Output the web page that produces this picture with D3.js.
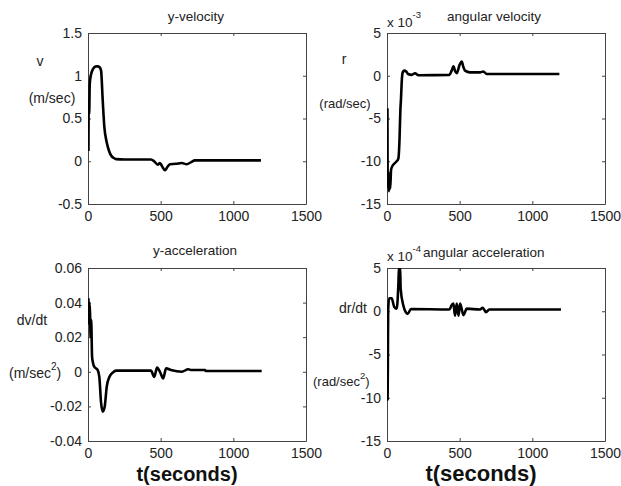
<!DOCTYPE html>
<html lang="en">
<head>
    <meta charset="UTF-8">
    <title>y / angular velocity and acceleration</title>
    <script src="https://d3js.org/d3.v7.min.js"></script>
    <style>
        body {
            margin: 0;
            background: #fff;
        }

        text {
            font-family: "Liberation Sans", Arial, sans-serif;
            fill: #222;
        }

        .tick text {
            font-size: 14px;
        }

        .title {
            font-size: 13.5px;
        }

        .ylab {
            font-size: 14px;
        }

        .xlab {
            font-size: 20px;
            font-weight: bold;
            fill: #111;
        }

        .curve {
            fill: none;
            stroke: #000;
            stroke-width: 2.6px;
            stroke-linejoin: round;
        }
    </style>
</head>
<body>
<script>
    //x轴刻度
    const xTicks = [0, 500, 1000, 1500];
    //各图y轴刻度
    const velTicks = [-0.5, 0, 0.5, 1, 1.5];
    const angVelTicks = [-15, -10, -5, 0, 5];
    const accTicks = [-0.04, -0.02, 0, 0.02, 0.04, 0.06];
    const angAccTicks = [-15, -10, -5, 0, 5];

    //y-velocity  [t, v]
    const yVelocity = [
        [3, 0.12], [5, 0.72], [8, 0.55], [12, 0.9], [20, 1.01], [35, 1.08], [55, 1.11], [67, 1.11],
        [80, 1.1], [90, 1.06], [101, 0.72], [112, 0.41], [129, 0.22], [145, 0.12], [158, 0.07],
        [175, 0.04], [193, 0.025], [250, 0.02], [433, 0.02], [455, 0.0], [480, -0.04], [495, -0.02],
        [510, -0.06], [530, -0.105], [545, -0.07], [564, -0.035], [605, -0.03], [645, -0.02],
        [679, -0.035], [710, -0.01], [736, 0.01], [1190, 0.01]
    ];
    //angular velocity  [t, r] (x 10^-3)
    const angVelocity = [
        [3, -3.8], [5, -13], [9, -11.2], [13, -13.5], [18, -11.8], [22, -13.2], [28, -11], [36, -10.6],
        [55, -10.2], [78, -9.7], [86, -7.5], [92, -4], [96, -2.8], [102, -0.5], [108, 0.4], [119, 0.6],
        [132, 0.5], [145, 0.2], [170, 0.1], [193, 0.3], [216, 0.05], [429, 0.1], [445, 0.6], [457, 1.1],
        [470, 0.5], [480, 0.3], [500, 1.3], [514, 1.65], [526, 1.0], [537, 0.6], [571, 0.4], [600, 0.4],
        [640, 0.4], [663, 0.5], [686, 0.2], [1186, 0.2]
    ];
    //y-acceleration  [t, dv/dt]
    const yAccel = [
        [3, 0.0425], [5, 0.028], [10, 0.04], [14, 0.034], [18, 0.02], [22, 0.03], [28, 0.0087],
        [35, 0.005], [43, 0.003], [67, 0.001], [78, -0.003], [90, -0.018], [101, -0.023], [115, -0.02],
        [129, -0.0086], [147, -0.003], [170, -0.0005], [193, 0.0007], [433, 0.0007], [456, -0.003],
        [475, 0.0024], [495, 0.0], [518, -0.0038], [537, 0.002], [571, 0.001], [645, 0.0], [690, 0.0015],
        [710, 0.001], [805, 0.001], [810, 0.0005], [1195, 0.0005]
    ];
    //angular acceleration  [t, dr/dt] (x 10^-4)
    const angAccel = [
        [2, 0], [4, -10.2], [6, -6], [8, 0], [14, 1.5], [32, 1.5], [50, 0.5], [67, 0.3], [78, 3.0],
        [83, 5.2], [90, 5.2], [94, 2.6], [112, 0.7], [129, -0.1], [142, -0.3], [165, 0.25], [429, 0.2],
        [445, 0.7], [457, 0.9], [468, -0.5], [480, 0.9], [492, -0.5], [503, 0.9], [526, -0.45],
        [549, 0.3], [640, 0.2], [658, 0.4], [681, -0.1], [704, 0.2], [1197, 0.2]
    ];

    const width = 621;
    const height = 486;

    const svg = d3.select("body").append("svg")
        .attr("width", width)
        .attr("height", height);

    svg.append("rect").attr("width", width).attr("height", height).attr("fill", "#fff");

    //画一个子图
    function drawPanel(id, box, yDomain, yTicks, data) {
        const x = d3.scaleLinear().domain([0, 1500]).range([box.left, box.right]);
        const y = d3.scaleLinear().domain(yDomain).range([box.bottom, box.top]);
        const g = svg.append("g").attr("class", "panel");

        //裁剪区域
        svg.append("clipPath").attr("id", id)
            .append("rect")
            .attr("x", box.left).attr("y", box.top)
            .attr("width", box.right - box.left).attr("height", box.bottom - box.top);

        const fmt = d => String(d);

        //四边刻度朝内
        g.append("g").attr("transform", "translate(0," + box.bottom + ")")
            .call(d3.axisBottom(x).tickValues(xTicks).tickFormat(fmt).tickSizeInner(-3).tickSizeOuter(0).tickPadding(7));
        g.append("g").attr("transform", "translate(0," + box.top + ")")
            .call(d3.axisTop(x).tickValues(xTicks).tickFormat("").tickSizeInner(-3).tickSizeOuter(0));
        g.append("g").attr("transform", "translate(" + box.left + ",0)")
            .call(d3.axisLeft(y).tickValues(yTicks).tickFormat(fmt).tickSizeInner(-3).tickSizeOuter(0).tickPadding(6));
        g.append("g").attr("transform", "translate(" + box.right + ",0)")
            .call(d3.axisRight(y).tickValues(yTicks).tickFormat("").tickSizeInner(-3).tickSizeOuter(0));

        g.selectAll(".domain").attr("stroke", "#444");
        g.selectAll(".tick line").attr("stroke", "#444");
        g.selectAll(".tick text").attr("fill", "#222");

        //曲线
        const line = d3.line()
            .x(d => x(d[0]))
            .y(d => y(d[1]))
            .curve(d3.curveMonotoneX);

        g.append("path")
            .datum(data)
            .attr("class", "curve")
            .attr("clip-path", "url(#" + id + ")")
            .attr("d", line);

        return g;
    }

    const boxTL = {left: 88, right: 306, top: 33, bottom: 204};
    const boxTR = {left: 387, right: 605, top: 33, bottom: 204};
    const boxBL = {left: 88, right: 306, top: 268, bottom: 441};
    const boxBR = {left: 387, right: 605, top: 268, bottom: 441};

    drawPanel("c1", boxTL, [-0.5, 1.5], velTicks, yVelocity);
    drawPanel("c2", boxTR, [-15, 5], angVelTicks, angVelocity);
    drawPanel("c3", boxBL, [-0.04, 0.06], accTicks, yAccel);
    drawPanel("c4", boxBR, [-15, 5], angAccTicks, angAccel);

    //标题
    svg.append("text").attr("class", "title").attr("x", 196).attr("y", 21)
        .attr("text-anchor", "middle").text("y-velocity");
    svg.append("text").attr("class", "title").attr("x", 494).attr("y", 21)
        .attr("text-anchor", "middle").text("angular velocity");
    svg.append("text").attr("class", "title").attr("x", 195).attr("y", 255)
        .attr("text-anchor", "middle").text("y-acceleration");
    svg.append("text").attr("class", "title").attr("x", 423).attr("y", 257)
        .text("angular acceleration");

    //指数标记
    function expLabel(x0, y0, p) {
        const t = svg.append("text").attr("class", "title").attr("x", x0).attr("y", y0);
        t.append("tspan").text("x 10");
        t.append("tspan").attr("dy", -9).attr("font-size", "9.5px").text(p);
    }
    expLabel(387, 27, "-3");
    expLabel(387, 261, "-4");

    //y轴标签
    svg.append("text").attr("class", "ylab").attr("x", 40).attr("y", 66).attr("text-anchor", "middle").text("v");
    svg.append("text").attr("class", "ylab").attr("x", 52).attr("y", 103).attr("text-anchor", "middle").text("(m/sec)");
    svg.append("text").attr("class", "ylab").attr("x", 344).attr("y", 64).attr("text-anchor", "middle").text("r");
    svg.append("text").attr("class", "ylab").attr("x", 345).attr("y", 108).attr("text-anchor", "middle")
        .style("font-size", "13px").text("(rad/sec)");
    svg.append("text").attr("class", "ylab").attr("x", 32).attr("y", 325).attr("text-anchor", "middle").text("dv/dt");
    //(m/sec)^2
    const ms = svg.append("text").attr("class", "ylab").attr("x", 9).attr("y", 378);
    ms.append("tspan").text("(m/sec");
    ms.append("tspan").attr("dy", -8).attr("font-size", "10px").text("2");
    ms.append("tspan").attr("dy", 8).text(")");
    svg.append("text").attr("class", "ylab").attr("x", 353).attr("y", 313).attr("text-anchor", "middle").text("dr/dt");
    //(rad/sec^2)
    const rs = svg.append("text").attr("class", "ylab").attr("x", 313).attr("y", 386).style("font-size", "13px");
    rs.append("tspan").text("(rad/sec");
    rs.append("tspan").attr("dy", -7).attr("font-size", "9.5px").text("2");
    rs.append("tspan").attr("dy", 7).text(")");

    //x轴标签
    svg.append("text").attr("class", "xlab").attr("x", 187).attr("y", 481)
        .attr("text-anchor", "middle").text("t(seconds)");
    svg.append("text").attr("class", "xlab").attr("x", 481).attr("y", 481)
        .attr("text-anchor", "middle").style("font-size", "22px").text("t(seconds)");
</script>
</body>
</html>
